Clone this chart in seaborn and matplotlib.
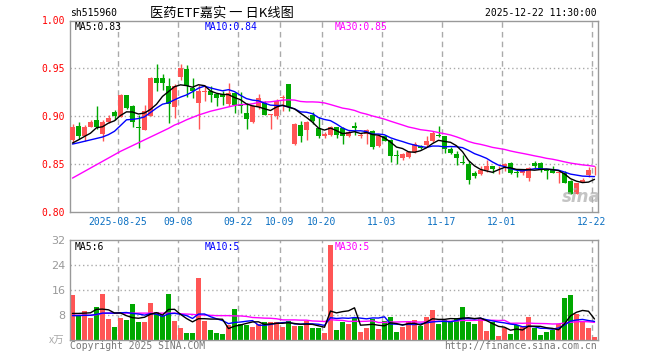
import numpy as np
import pandas as pd
import matplotlib
matplotlib.use("Agg")
import matplotlib.pyplot as plt
import seaborn as sns

# ---------------- data ----------------
opens = [0.875, 0.8895, 0.879, 0.889, 0.896, 0.881, 0.894, 0.9047, 0.8993, 0.9224,
         0.910, 0.8885, 0.8856, 0.900, 0.940, 0.9394, 0.931, 0.909, 0.9413, 0.9494,
         0.929, 0.914, 0.9255, 0.9257, 0.923, 0.923, 0.9128, 0.9246, 0.9115, 0.903,
         0.8932, 0.9093, 0.914, 0.9010, 0.900, 0.919, 0.9337, 0.8709, 0.891, 0.8856,
         0.901, 0.8876, 0.8786, 0.880, 0.888, 0.887, 0.8786, 0.8897, 0.879, 0.8807,
         0.884, 0.869, 0.8786, 0.8744, 0.8590, 0.856, 0.8566, 0.8618, 0.8688, 0.8698,
         0.874, 0.8795, 0.8793, 0.865, 0.8604, 0.8517, 0.8501, 0.8407, 0.839, 0.843,
         0.8473, 0.8461, 0.848, 0.8508, 0.8405, 0.8403, 0.835, 0.8508, 0.8508, 0.8430,
         0.843, 0.8400, 0.8403, 0.832, 0.8187, 0.831, 0.838, 0.844]
closes = [0.889, 0.8786, 0.888, 0.894, 0.889, 0.894, 0.898, 0.900, 0.9215, 0.9082,
          0.8932, 0.8875, 0.9055, 0.9403, 0.935, 0.9343, 0.9128, 0.931, 0.950, 0.931,
          0.926, 0.9257, 0.9262, 0.9222, 0.919, 0.920, 0.9246, 0.911, 0.9105, 0.897,
          0.910, 0.919, 0.9013, 0.9015, 0.9152, 0.9195, 0.9093, 0.8918, 0.8786, 0.8932,
          0.8945, 0.8786, 0.8814, 0.889, 0.880, 0.8786, 0.8828, 0.8875, 0.8795, 0.885,
          0.868, 0.8793, 0.8735, 0.858, 0.8585, 0.8604, 0.862, 0.8712, 0.866, 0.874,
          0.8825, 0.879, 0.8653, 0.8615, 0.856, 0.8513, 0.833, 0.8372, 0.843, 0.848,
          0.844, 0.8465, 0.8497, 0.8403, 0.8400, 0.8431, 0.8455, 0.8473, 0.8438, 0.8426,
          0.840, 0.8405, 0.830, 0.8187, 0.8296, 0.8326, 0.843, 0.8445]
highs = [0.892, 0.894, 0.891, 0.896, 0.910, 0.896, 0.901, 0.906, 0.923, 0.9224,
         0.912, 0.901, 0.912, 0.941, 0.9546, 0.944, 0.9396, 0.933, 0.954, 0.9535,
         0.9396, 0.932, 0.9326, 0.931, 0.924, 0.926, 0.9345, 0.925, 0.925, 0.914,
         0.911, 0.923, 0.916, 0.9025, 0.9176, 0.9218, 0.9337, 0.8925, 0.895, 0.8945,
         0.904, 0.8987, 0.8835, 0.890, 0.889, 0.889, 0.885, 0.894, 0.882, 0.886,
         0.885, 0.881, 0.880, 0.876, 0.864, 0.8615, 0.863, 0.8726, 0.8695, 0.8793,
         0.884, 0.8897, 0.8793, 0.868, 0.8629, 0.8594, 0.8525, 0.8424, 0.8473, 0.8543,
         0.848, 0.8473, 0.8508, 0.8515, 0.8438, 0.8438, 0.8462, 0.8532, 0.8518, 0.8438,
         0.8473, 0.8410, 0.842, 0.8327, 0.8303, 0.8354, 0.8462, 0.8473]
lows = [0.872, 0.876, 0.874, 0.888, 0.886, 0.874, 0.893, 0.896, 0.899, 0.907,
        0.888, 0.8664, 0.885, 0.8995, 0.9257, 0.927, 0.8926, 0.8978, 0.938, 0.920,
        0.919, 0.8866, 0.9152, 0.915, 0.910, 0.912, 0.910, 0.903, 0.903, 0.8866,
        0.8925, 0.9075, 0.9006, 0.8866, 0.8966, 0.905, 0.905, 0.870, 0.873, 0.8745,
        0.8918, 0.8765, 0.8765, 0.879, 0.8765, 0.871, 0.878, 0.8804, 0.877, 0.8702,
        0.8656, 0.8673, 0.8735, 0.852, 0.8495, 0.8535, 0.8559, 0.8608, 0.8653, 0.8688,
        0.873, 0.8776, 0.861, 0.8597, 0.8482, 0.8497, 0.829, 0.8355, 0.8386, 0.8417,
        0.8403, 0.8393, 0.8424, 0.8393, 0.8358, 0.8386, 0.8323, 0.8455, 0.8414, 0.8344,
        0.840, 0.8298, 0.830, 0.818, 0.818, 0.831, 0.836, 0.8386]
volumes = [14.4, 7.8, 9.3, 7.0, 10.6, 14.7, 6.7, 4.2, 7.0, 6.3,
           11.5, 5.8, 5.8, 11.8, 8.9, 7.6, 14.7, 6.1, 3.8, 2.2,
           2.2, 19.8, 6.1, 3.2, 2.2, 1.9, 4.9, 9.9, 5.1, 4.8,
           4.2, 5.1, 5.8, 5.8, 5.8, 4.2, 6.1, 4.5, 4.5, 6.1,
           3.8, 3.8, 2.2, 30.4, 3.2, 5.8, 5.1, 7.0, 2.6, 3.8,
           6.7, 3.5, 6.1, 7.4, 2.6, 4.2, 6.1, 6.4, 4.5, 7.4,
           9.6, 5.1, 6.4, 5.8, 7.0, 10.6, 5.8, 5.1, 6.7, 2.9,
           5.8, 1.3, 3.8, 1.9, 4.8, 4.2, 7.4, 3.8, 1.6, 2.6,
           3.2, 5.1, 13.4, 14.4, 8.3, 6.1, 3.8, 1.0]

# moving-average values before a full window is available
ma5_head = [0.8717, 0.875, 0.8786, 0.882]
ma10_head = [0.8706, 0.872, 0.8735, 0.875, 0.8765, 0.878, 0.8805, 0.884, 0.890]
ma30_head = [0.835, 0.8385, 0.842, 0.8455, 0.849, 0.8525, 0.856, 0.8595, 0.863, 0.866,
             0.869, 0.872, 0.875, 0.878, 0.881, 0.884, 0.887, 0.8905, 0.893, 0.896,
             0.8985, 0.901, 0.903, 0.905, 0.9065, 0.908, 0.9095, 0.911, 0.912]
vma5_head = [8.5, 8.5, 8.6, 8.7]
vma10_head = [7.8, 7.8, 7.9, 7.9, 8.2, 8.6, 8.6, 8.6, 8.7]
vma30_head = [7.9, 7.9, 7.9, 7.9, 8.1, 8.5, 8.6, 8.6, 8.6, 8.6,
              8.6, 8.6, 8.6, 8.6, 8.6, 8.6, 8.6, 8.6, 8.4, 8.3,
              8.2, 8.0, 8.0, 7.9, 7.8, 7.8, 7.8, 7.7, 7.7]

holidays = ["2025-10-01", "2025-10-02", "2025-10-03", "2025-10-06", "2025-10-07", "2025-10-08"]
tick_dates = ["2025-08-25", "2025-09-08", "2025-09-22", "2025-10-09", "2025-10-20",
              "2025-11-03", "2025-11-17", "2025-12-01", "2025-12-22"]
tick_labels = ["2025-08-25", "09-08", "09-22", "10-09", "10-20", "11-03", "11-17", "12-01", "12-22"]
price_ticks = [0.80, 0.85, 0.90, 0.95, 1.00]
vol_ticks = [8, 16, 24, 32]

# ---------------- build frames ----------------
dates = pd.bdate_range("2025-08-13", "2025-12-22")
dates = dates[~dates.isin(pd.to_datetime(holidays))]
n = len(closes)
idx = np.arange(n)
df = pd.DataFrame({"idx": idx, "open": opens, "close": closes, "high": highs,
                   "low": lows, "vol": volumes}, index=dates[:n])
df["dir"] = np.where(df["close"] >= df["open"], "up", "down")


def ma(series, w, head):
    out = series.rolling(w).mean().to_numpy()
    out[:len(head)] = head
    return out


df["ma5"] = ma(df["close"], 5, ma5_head)
df["ma10"] = ma(df["close"], 10, ma10_head)
df["ma30"] = ma(df["close"], 30, ma30_head)
df["vma5"] = ma(df["vol"], 5, vma5_head)
df["vma10"] = ma(df["vol"], 10, vma10_head)
df["vma30"] = ma(df["vol"], 30, vma30_head)

tick_pos = [int(np.where(dates == pd.Timestamp(d))[0][0]) for d in tick_dates]

# ---------------- style ----------------
sns.set_style("white")
plt.rcParams["font.family"] = ["DejaVu Sans Mono", "Noto Sans CJK SC"]

RED = "#ff5555"
GREEN = "#00a800"
GRID = "#aaaaaa"
SPINE = "#999999"
BLUE_TXT = "#0a6fc2"
W, H = 660, 360


def rect(l, t, r, b):
    return [l / W, 1 - b / H, (r - l) / W, (b - t) / H]


fig = plt.figure(figsize=(W / 100, H / 100), dpi=100)
ax = fig.add_axes(rect(69.5, 20.5, 597.5, 211.5))
axv = fig.add_axes(rect(69.5, 240, 597.5, 340))

colors = np.where(df["dir"] == "up", RED, GREEN)
bw = 5 / 6
grid_x = [p - 0.42 for p in tick_pos]

# ---- grids ----
for a in (ax, axv):
    for gx in grid_x:
        a.axvline(gx, color=GRID, lw=1, ls=(0, (4, 3)), zorder=0)
for yv in price_ticks[1:-1]:
    ax.axhline(yv, color=GRID, lw=1, ls=(0, (1, 2)), zorder=0)
for yv in vol_ticks[:-1]:
    axv.axhline(yv, color=GRID, lw=1, ls=(0, (1, 2)), zorder=0)

# ---- price panel ----
ax.vlines(df["idx"], df["low"], df["high"], colors=colors, lw=1, zorder=2)
body_lo = np.minimum(df["open"], df["close"])
body_h = np.maximum(np.abs(df["close"] - df["open"]), 0.0009)
ax.bar(df["idx"], body_h, bottom=body_lo, width=bw, color=colors, linewidth=0, zorder=3)

sns.lineplot(x=df["idx"], y=df["ma30"], ax=ax, color="#ff00ff", lw=1, estimator=None, zorder=4)
sns.lineplot(x=df["idx"], y=df["ma10"], ax=ax, color="#0000ff", lw=1, estimator=None, zorder=5)
sns.lineplot(x=df["idx"], y=df["ma5"], ax=ax, color="black", lw=1, estimator=None, zorder=6)

ax.set_xlim(-0.5, 87.5)
ax.set_ylim(0.80, 1.00)
ax.set_yticks(price_ticks)
ax.set_yticklabels([f"{v:.2f}" for v in price_ticks], color="red", fontsize=7)
ax.set_xticks(grid_x)
ax.set_xticklabels(tick_labels, color=BLUE_TXT, fontsize=7)
ax.tick_params(length=0, pad=3)
ax.tick_params(axis="x", pad=4)
ax.set_xlabel("")
ax.set_ylabel("")

# ---- volume panel ----
sns.barplot(data=df, x="idx", y="vol", hue="dir", palette={"up": RED, "down": GREEN},
            native_scale=True, width=bw, dodge=False, saturation=1, linewidth=0,
            legend=False, ax=axv, zorder=2)
sns.lineplot(x=df["idx"], y=df["vma30"], ax=axv, color="#ff00ff", lw=1, estimator=None, zorder=4)
sns.lineplot(x=df["idx"], y=df["vma10"], ax=axv, color="#0000ff", lw=1, estimator=None, zorder=5)
sns.lineplot(x=df["idx"], y=df["vma5"], ax=axv, color="black", lw=1, estimator=None, zorder=6)
axv.set_xlim(-0.5, 87.5)
axv.set_ylim(0, 32)
axv.set_xticks([])
axv.set_yticks(vol_ticks)
axv.set_yticklabels([str(v) for v in vol_ticks], color="#999999", fontsize=8,
                    family="DejaVu Sans")
axv.tick_params(length=0, pad=3)
axv.set_xlabel("")
axv.set_ylabel("")

for a in (ax, axv):
    for s in a.spines.values():
        s.set_color(SPINE)
        s.set_linewidth(1)


def ftext(x, y, s, **kw):
    fig.text(x / W, 1 - y / H, s, **kw)


# header texts
ftext(70, 13, "sh515960", fontsize=7, va="center", ha="left", color="black")
ftext(222, 13, "医药ETF嘉实 一 日K线图", fontsize=9.5, va="center", ha="center",
      color="black", family=["Noto Sans CJK SC", "DejaVu Sans"])
ftext(597, 13, "2025-12-22 11:30:00", fontsize=7, va="center", ha="right", color="black")

ftext(75, 26.5, f"MA5:{df['ma5'].iloc[-1]:.2f}", fontsize=7, va="center", color="black")
ftext(205, 26.5, f"MA10:{df['ma10'].iloc[-1]:.2f}", fontsize=7, va="center", color="#0000ff")
ftext(335, 26.5, f"MA30:{df['ma30'].iloc[-1]:.2f}", fontsize=7, va="center", color="#ff00ff")

ftext(75, 246.5, f"MA5:{int(df['vma5'].iloc[-1])}", fontsize=7, va="center", color="black")
ftext(205, 246.5, f"MA10:{int(df['vma10'].iloc[-1])}", fontsize=7, va="center", color="#0000ff")
ftext(335, 246.5, f"MA30:{int(df['vma30'].iloc[-1])}", fontsize=7, va="center", color="#ff00ff")

ftext(64, 341, "x万", fontsize=7.5, va="center", ha="right", color="#aaaaaa",
      style="italic", family=["Noto Sans CJK SC", "DejaVu Sans"])
ftext(70, 346, "Copyright 2025 SINA.COM", fontsize=7, va="center", ha="left", color="#777777")
ftext(597, 346, "http://finance.sina.com.cn", fontsize=7, va="center", ha="right", color="#777777")

ftext(581, 197, "sina", fontsize=12, va="center", ha="center", color="#b0b0b0",
      style="italic", weight="bold", family="DejaVu Sans", alpha=0.75, zorder=10)

fig.savefig("out.png", dpi=100)
